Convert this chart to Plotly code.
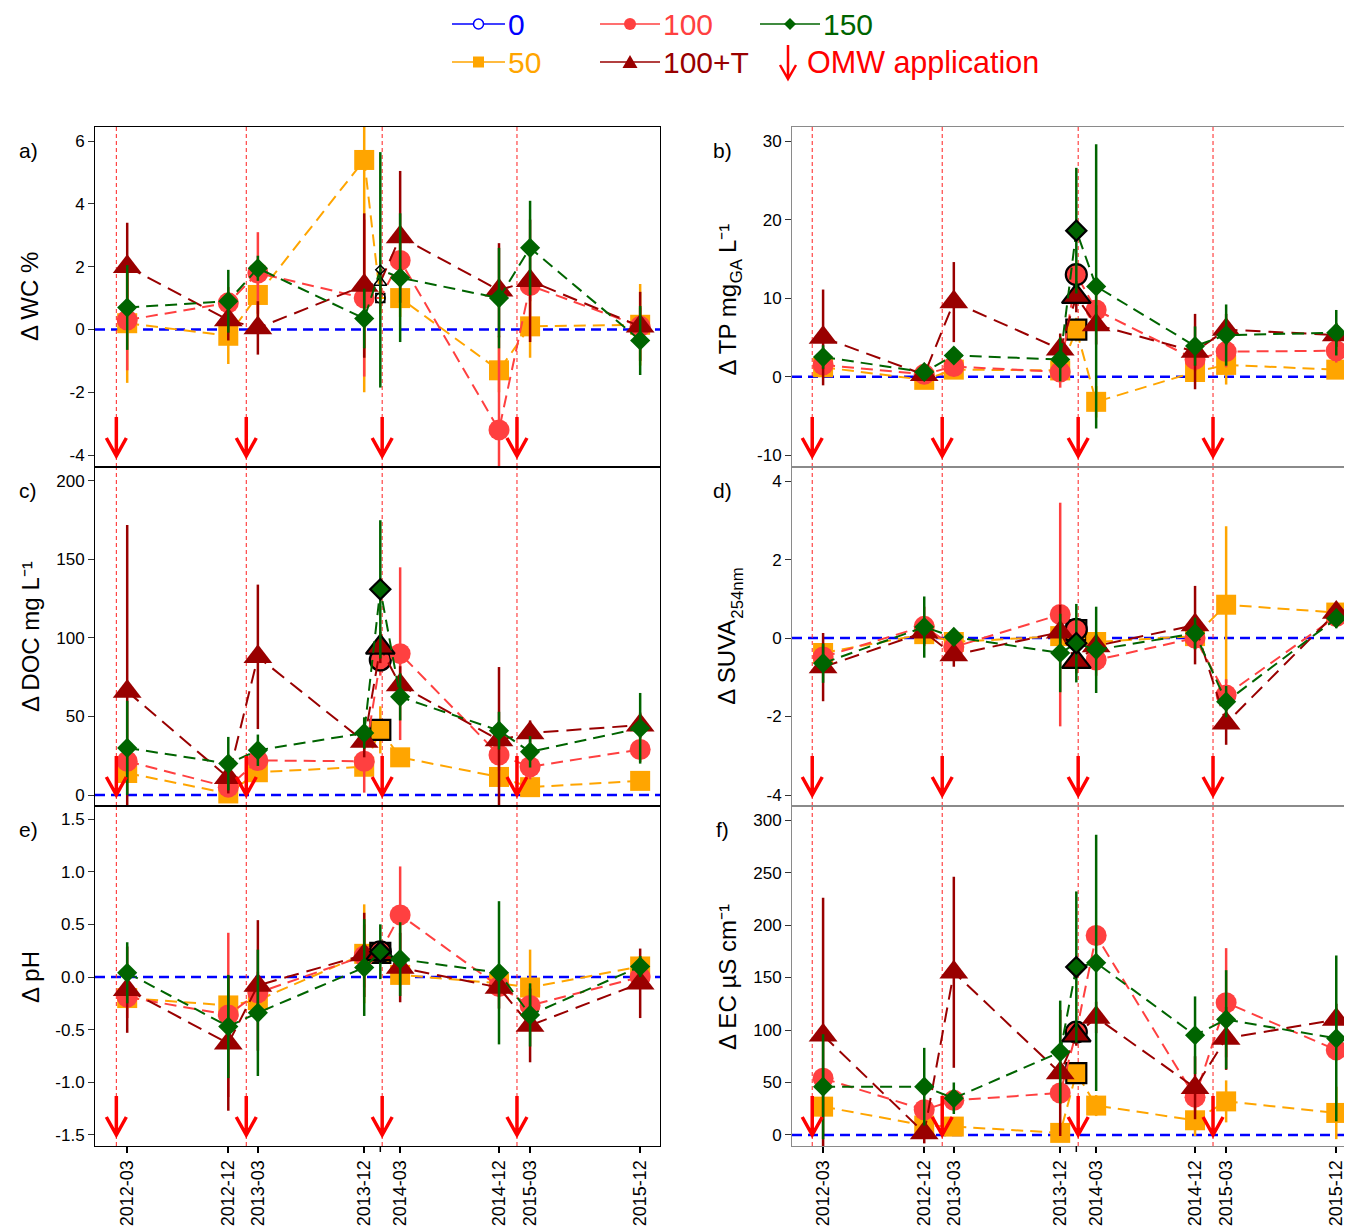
import plotly.graph_objects as go

# ---------------- data ----------------
dates = ["2012-03-15", "2012-12-10", "2013-02-27", "2013-12-08", "2014-01-20",
         "2014-03-14", "2014-12-03", "2015-02-24", "2015-12-15"]
tick_labels = ["2012-03", "2012-12", "2013-03", "2013-12", "", "2014-03",
               "2014-12", "2015-03", "2015-12"]
omw_dates = ["2012-02-15", "2013-01-27", "2014-01-25", "2015-01-20"]
post_idx = 4  # sampling right after the 2014 OMW application

series_names = ["50", "100", "100+T", "150"]

# a) WC %
wc_50 = [0.2, -0.2, 1.1, 5.4, 1.0, 1.0, -1.3, 0.1, 0.15]
wc_50_err = [1.9, 0.9, 0.9, 7.4, 0.5, 0.6, 0.7, 1.0, 1.3]
wc_100 = [0.3, 0.85, 1.8, 1.0, 1.0, 2.2, -3.2, 1.4, 0.1]
wc_100_err = [1.6, 0.5, 1.3, 2.5, 0.3, 0.8, 3.0, 0.5, 0.6]
wc_100T = [2.0, 0.3, 0.05, 1.4, 1.5, 2.95, 1.25, 1.55, 0.1]
wc_100T_err = [1.4, 0.65, 0.85, 2.3, 0.4, 2.1, 1.5, 1.95, 1.1]
wc_150 = [0.7, 0.9, 1.95, 0.35, 1.9, 1.65, 1.0, 2.6, -0.35]
wc_150_err = [1.35, 1.0, 0.4, 0.95, 3.75, 2.05, 1.6, 1.5, 1.1]
wc_ticks = [-4, -2, 0, 2, 4, 6]
wc_tick_text = ["-4", "-2", "0", "2", "4", "6"]

# b) TP mg_GA L-1
tp_50 = [1.2, -0.4, 0.9, 0.8, 6.0, -3.2, 0.6, 1.5, 0.9]
tp_50_err = [0.8, 0.4, 0.6, 1.0, 1.5, 2.0, 1.0, 2.5, 0.6]
tp_100 = [1.5, 0.3, 1.3, 0.6, 13.0, 8.5, 2.2, 3.2, 3.3]
tp_100_err = [0.8, 0.3, 0.8, 2.0, 1.5, 2.0, 1.5, 2.0, 1.5]
tp_100T = [5.0, 0.25, 9.5, 3.5, 10.2, 6.6, 3.2, 6.0, 5.3]
tp_100T_err = [6.1, 0.5, 5.1, 2.0, 2.0, 2.5, 4.8, 2.0, 1.5]
tp_150 = [2.5, 0.6, 2.7, 2.2, 18.6, 11.5, 3.9, 5.3, 5.6]
tp_150_err = [1.5, 0.5, 1.0, 2.8, 8.0, 18.1, 2.5, 3.9, 2.9]
tp_ticks = [-10, 0, 10, 20, 30]
tp_tick_text = ["-10", "0", "10", "20", "30"]

# c) DOC mg L-1
doc_50 = [14, 1, 14.5, 18, 41.5, 24, 11.5, 5, 9]
doc_50_err = [5, 3, 5, 5, 15, 5, 5, 5, 5]
doc_100 = [21.5, 5, 22, 21.5, 86, 90, 25.5, 18, 29]
doc_100_err = [8, 5, 5, 20, 10, 55, 10, 8, 8]
doc_100T = [66, 11, 88, 34, 94, 70, 35, 39.5, 44.5]
doc_100T_err = [106, 10, 46, 10, 10, 12, 46.5, 8, 8]
doc_150 = [30, 20, 28.5, 39.5, 131, 62.5, 41, 27.5, 42.5]
doc_150_err = [30, 17, 10, 10, 44, 15, 12, 10, 22.5]
doc_ticks = [0, 50, 100, 150, 200]
doc_tick_text = ["0", "50", "100", "150", "200"]

# d) SUVA254nm
suva_50 = [-0.38, 0.1, -0.1, 0.05, 0.2, -0.1, 0.05, 0.85, 0.65]
suva_50_err = [0.2, 0.2, 0.2, 0.3, 0.2, 0.2, 0.2, 2.0, 0.2]
suva_100 = [-0.48, 0.3, -0.23, 0.6, 0.22, -0.56, 0.0, -1.45, 0.55]
suva_100_err = [0.3, 0.5, 0.3, 2.85, 0.3, 0.4, 0.3, 0.4, 0.2]
suva_100T = [-0.74, 0.15, -0.43, 0.15, -0.6, -0.2, 0.33, -2.17, 0.65]
suva_100T_err = [0.87, 0.3, 0.3, 0.7, 0.3, 0.3, 1.0, 0.55, 0.2]
suva_150 = [-0.64, 0.28, 0.03, -0.38, -0.13, -0.3, 0.12, -1.62, 0.5]
suva_150_err = [0.5, 0.78, 0.2, 1.0, 1.0, 1.1, 0.4, 0.4, 0.25]
suva_ticks = [-4, -2, 0, 2, 4]
suva_tick_text = ["-4", "-2", "0", "2", "4"]

# e) pH
ph_50 = [-0.2, -0.27, -0.22, 0.22, 0.23, 0.02, -0.06, -0.1, 0.1]
ph_50_err = [0.1, 0.1, 0.1, 0.47, 0.05, 0.1, 0.1, 0.36, 0.1]
ph_100 = [-0.19, -0.36, -0.15, 0.2, 0.24, 0.59, -0.09, -0.27, 0.0]
ph_100_err = [0.2, 0.78, 0.2, 0.3, 0.05, 0.46, 0.1, 0.2, 0.1]
ph_100T = [-0.12, -0.63, -0.08, 0.21, 0.22, 0.09, -0.1, -0.46, -0.06]
ph_100T_err = [0.41, 0.64, 0.62, 0.4, 0.05, 0.33, 0.2, 0.35, 0.33]
ph_150 = [0.04, -0.47, -0.34, 0.09, 0.24, 0.17, 0.04, -0.36, 0.1]
ph_150_err = [0.29, 0.49, 0.6, 0.46, 0.26, 0.35, 0.68, 0.3, 0.1]
ph_ticks = [-1.5, -1.0, -0.5, 0.0, 0.5, 1.0, 1.5]
ph_tick_text = ["-1.5", "-1.0", "-0.5", "0.0", "0.5", "1.0", "1.5"]

# f) EC uS cm-1
ec_50 = [27, 9, 8, 2, 59, 28, 14, 32, 21]
ec_50_err = [5, 5, 5, 5, 10, 10, 15, 20, 25]
ec_100 = [54, 24, 33, 40, 98, 190, 36, 126, 81]
ec_100_err = [10, 10, 10, 10, 10, 10, 10, 52, 10]
ec_100T = [95, 2, 155, 59, 95, 112, 45, 92, 110]
ec_100T_err = [131, 10, 91, 60, 10, 15, 30, 30, 15]
ec_150 = [46, 46, 35, 79, 160, 164, 95, 110, 92]
ec_150_err = [50, 37, 15, 49, 72, 122, 37, 47, 79]
ec_ticks = [0, 50, 100, 150, 200, 250, 300]
ec_tick_text = ["0", "50", "100", "150", "200", "250", "300"]

# ---------------- styling ----------------
PAGE_OFF = 8                      # default body margin of the page
W, H = 1352 - PAGE_OFF, 1231 - PAGE_OFF
FONT = "Liberation Sans, Arial, sans-serif"
COL = {"0": "#0000FF", "50": "#FFA500", "100": "#FF4040", "100+T": "#990000", "150": "#006400"}
SYM = {"50": "square", "100": "circle", "100+T": "triangle-up", "150": "diamond"}
SIZE = {"50": 20, "100": 21, "100+T": 25, "150": 15.5}
DASH = {"50": "12px,7px", "100": "12px,7px", "100+T": "15px,8px", "150": "12px,7px"}
ARROW_RED = "#FF0000"
TITLE_SIZE = 24
SUB_SIZE = 16.8


def xp(px):
    return (px - PAGE_OFF) / W


def yp(py):
    return 1 - (py - PAGE_OFF) / H


left_dom = [xp(95), xp(660)]
right_dom = [xp(792), 1.0]
rows = [(127, 467), (467, 806), (806, 1146)]
left_range = ["2011-12-20", "2016-02-06"]
right_range = ["2011-12-23", "2016-01-26"]

# axis titles: pieces (text, font size, x shift px, centre y px) - subscripts as separate pieces
titles = {
    1: [("Δ WC %", TITLE_SIZE, 0, 297)],
    2: [("Δ TP mg", TITLE_SIZE, 0, 329.5), ("GA", SUB_SIZE, 9.7, 270.6), ("L⁻¹", TITLE_SIZE, 0, 239)],
    3: [("Δ DOC mg L⁻¹", TITLE_SIZE, 0, 637)],
    4: [("Δ SUVA", TITLE_SIZE, 0, 662.7), ("254nm", SUB_SIZE, 9.7, 593)],
    5: [("Δ pH", TITLE_SIZE, 0, 977)],
    6: [("Δ EC µS cm⁻¹", TITLE_SIZE, 0, 977)],
}

panels = [
    dict(idx=1, side="L", row=0, rng=[-4.38, 6.45], tv=wc_ticks, tt=wc_tick_text, letter="a)", hollow=True,
         data=[(wc_50, wc_50_err), (wc_100, wc_100_err), (wc_100T, wc_100T_err), (wc_150, wc_150_err)]),
    dict(idx=2, side="R", row=0, rng=[-11.5, 31.8], tv=tp_ticks, tt=tp_tick_text, letter="b)", hollow=False,
         data=[(tp_50, tp_50_err), (tp_100, tp_100_err), (tp_100T, tp_100T_err), (tp_150, tp_150_err)]),
    dict(idx=3, side="L", row=1, rng=[-7.0, 208.9], tv=doc_ticks, tt=doc_tick_text, letter="c)", hollow=False,
         data=[(doc_50, doc_50_err), (doc_100, doc_100_err), (doc_100T, doc_100T_err), (doc_150, doc_150_err)]),
    dict(idx=4, side="R", row=1, rng=[-4.28, 4.36], tv=suva_ticks, tt=suva_tick_text, letter="d)", hollow=False,
         data=[(suva_50, suva_50_err), (suva_100, suva_100_err), (suva_100T, suva_100T_err), (suva_150, suva_150_err)]),
    dict(idx=5, side="L", row=2, rng=[-1.605, 1.624], tv=ph_ticks, tt=ph_tick_text, letter="e)", hollow=False,
         data=[(ph_50, ph_50_err), (ph_100, ph_100_err), (ph_100T, ph_100T_err), (ph_150, ph_150_err)]),
    dict(idx=6, side="R", row=2, rng=[-10.5, 313.4], tv=ec_ticks, tt=ec_tick_text, letter="f)", hollow=False,
         data=[(ec_50, ec_50_err), (ec_100, ec_100_err), (ec_100T, ec_100T_err), (ec_150, ec_150_err)]),
]

labelled_vals = [d for d, t in zip(dates, tick_labels) if t]
labelled_text = [t for t in tick_labels if t]
unlabelled_vals = [d for d, t in zip(dates, tick_labels) if not t]

fig = go.Figure()
shapes = []
annotations = []
layout = {}

# arrow glyph in pixels (positive = up), tip at the anchor
ARROW_PATH = "M0,1 L0,40 M-10,19 L0,1 L10,19"

for p in panels:
    i = p["idx"]
    xa = "x" if i == 1 else f"x{i}"
    ya = "y" if i == 1 else f"y{i}"
    xkey = "xaxis" if i == 1 else f"xaxis{i}"
    ykey = "yaxis" if i == 1 else f"yaxis{i}"
    top, bot = rows[p["row"]]
    left = p["side"] == "L"
    frame = "#000000" if left else "#8a8a8a"
    bottom_row = p["row"] == 2

    layout[xkey] = dict(
        domain=left_dom if left else right_dom,
        range=left_range if left else right_range,
        type="date", anchor=ya,
        showline=True, mirror=True, linecolor=frame, linewidth=1,
        showgrid=False, zeroline=False,
        tickmode="array", tickvals=labelled_vals, ticktext=labelled_text,
        ticks="outside" if bottom_row else "", ticklen=6, tickcolor="#000000", tickwidth=1.5,
        showticklabels=bottom_row, tickangle=-90,
        tickfont=dict(family=FONT, size=18, color="#000000"),
    )
    layout[ykey] = dict(
        domain=[yp(bot), yp(top)], range=p["rng"], anchor=xa,
        showline=True, mirror=True if left else False, linecolor=frame, linewidth=1,
        showgrid=False, zeroline=False,
        tickmode="array", tickvals=p["tv"], ticktext=p["tt"],
        ticks="outside", ticklen=6, tickcolor="#333333",
        tickfont=dict(family=FONT, size=17, color="#000000"),
    )

    if bottom_row:
        # the unlabelled tick of the post-application sampling
        for d in unlabelled_vals:
            shapes.append(dict(type="line", xref=xa, yref="paper", x0=d, x1=d,
                               y0=yp(bot), y1=yp(bot + 6), line=dict(color="#000000", width=1.5)))

    # control line (treatment 0)
    shapes.append(dict(type="line", xref=f"{xa} domain", yref=ya, x0=0, x1=1, y0=0, y1=0,
                       line=dict(color=COL["0"], width=2.5, dash="10px,6px"), layer="below"))
    # OMW application lines and arrows
    for d in omw_dates:
        shapes.append(dict(type="line", xref=xa, yref=f"{ya} domain", x0=d, x1=d, y0=0, y1=1,
                           line=dict(color="#FF2020", width=1, dash="4px,3px"), layer="below"))
        shapes.append(dict(type="path", xref=xa, yref=f"{ya} domain",
                           xsizemode="pixel", ysizemode="pixel", xanchor=d, yanchor=10 / (bot - top),
                           path=ARROW_PATH, line=dict(color=ARROW_RED, width=3.5)))

    for name, (vals, errs) in zip(series_names, p["data"]):
        c = COL[name]
        n = len(vals)
        mcol = [c] * n
        msize = [SIZE[name]] * n
        lcol = [c] * n
        lw = [0] * n
        if p["hollow"]:
            mcol[post_idx] = "rgba(255,255,255,0)"
            msize[post_idx] = SIZE[name] * 0.45
            lcol[post_idx] = "#000000"
            lw[post_idx] = 1.5
        else:
            lcol[post_idx] = "#000000"
            lw[post_idx] = 2.2
        fig.add_trace(go.Scatter(
            x=dates, y=vals, mode="lines+markers", xaxis=xa, yaxis=ya, showlegend=False,
            line=dict(color=c, width=2, dash=DASH[name]),
            marker=dict(symbol=SYM[name], size=msize, color=mcol, opacity=1,
                        line=dict(color=lcol, width=lw)),
            error_y=dict(type="data", array=errs, visible=True, color=c, thickness=2.5, width=0),
        ))

    # panel letter and axis title
    lx = 28 if left else 722
    tx = 30 if left else 727
    annotations.append(dict(x=xp(lx), y=yp(top + 23), xref="paper", yref="paper", text=p["letter"],
                            xanchor="center", yanchor="middle", showarrow=False,
                            font=dict(family=FONT, size=21, color="#000000")))
    for txt, fs, dx, cy in titles[i]:
        annotations.append(dict(x=xp(tx + dx), y=yp(cy), xref="paper", yref="paper", text=txt,
                                xanchor="center", yanchor="middle", textangle=-90, showarrow=False,
                                font=dict(family=FONT, size=fs, color="#000000")))

# ---------------- legend (drawn manually) ----------------
leg_items = [
    ("0", 452, 505, 24), ("100", 600, 660, 24), ("150", 760, 820, 24),
    ("50", 452, 505, 62), ("100+T", 600, 660, 62),
]
for name, x0, x1, yy in leg_items:
    c = COL[name]
    shapes.append(dict(type="line", xref="paper", yref="paper", x0=xp(x0), x1=xp(x1), y0=yp(yy), y1=yp(yy),
                       line=dict(color=c, width=1.5)))
    cx = (x0 + x1) / 2
    if name == "0":
        shapes.append(dict(type="circle", xref="paper", yref="paper", x0=xp(cx - 5), x1=xp(cx + 5),
                           y0=yp(yy + 5), y1=yp(yy - 5), line=dict(color=c, width=1.5), fillcolor="white"))
    elif name == "100":
        shapes.append(dict(type="circle", xref="paper", yref="paper", x0=xp(cx - 6), x1=xp(cx + 6),
                           y0=yp(yy + 6), y1=yp(yy - 6), line=dict(color=c, width=0), fillcolor=c))
    elif name == "50":
        shapes.append(dict(type="rect", xref="paper", yref="paper", x0=xp(cx - 5.5), x1=xp(cx + 5.5),
                           y0=yp(yy + 5.5), y1=yp(yy - 5.5), line=dict(color=c, width=0), fillcolor=c))
    elif name == "150":
        path = (f"M {xp(cx - 6)},{yp(yy)} L {xp(cx)},{yp(yy - 6)} L {xp(cx + 6)},{yp(yy)} "
                f"L {xp(cx)},{yp(yy + 6)} Z")
        shapes.append(dict(type="path", xref="paper", yref="paper", path=path,
                           line=dict(color=c, width=0), fillcolor=c))
    elif name == "100+T":
        path = (f"M {xp(cx - 7.5)},{yp(yy + 6)} L {xp(cx + 7.5)},{yp(yy + 6)} L {xp(cx)},{yp(yy - 7)} Z")
        shapes.append(dict(type="path", xref="paper", yref="paper", path=path,
                           line=dict(color=c, width=0), fillcolor=c))
    annotations.append(dict(x=xp(x1 + 1), y=yp(yy), xref="paper", yref="paper", text=name,
                            showarrow=False, xanchor="left", yanchor="middle",
                            font=dict(family=FONT, size=30, color=c)))

shapes.append(dict(type="path", xref="paper", yref="paper", xsizemode="pixel", ysizemode="pixel",
                   xanchor=xp(788), yanchor=yp(80), path="M0,1 L0,35 M-8,15 L0,1 L8,15",
                   line=dict(color=ARROW_RED, width=2.5)))
annotations.append(dict(x=xp(805), y=yp(62), xref="paper", yref="paper", text="OMW application",
                        showarrow=False, xanchor="left", yanchor="middle",
                        font=dict(family=FONT, size=30.5, color=ARROW_RED)))

fig.update_layout(
    width=W, height=H, margin=dict(l=0, r=0, t=0, b=0),
    paper_bgcolor="white", plot_bgcolor="white",
    font=dict(family=FONT, color="#000000"),
    shapes=shapes, annotations=annotations, showlegend=False,
    **layout,
)

fig.write_html("out.html")
